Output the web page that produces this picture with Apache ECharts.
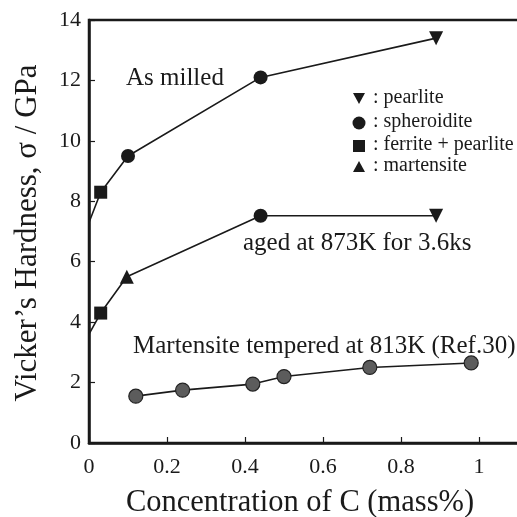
<!DOCTYPE html>
<html>
<head>
<meta charset="utf-8">
<script src="https://cdn.jsdelivr.net/npm/echarts@6/dist/echarts.min.js"></script>
<style>
  html, body { margin: 0; padding: 0; background: #fff; }
  #chart { width: 517px; height: 517px; }
</style>
</head>
<body>
<div id="chart"></div>
<script>
// as milled
var milledX = [0, 0.03, 0.1, 0.44, 0.89]
var milledY = [7.3, 8.3, 9.5, 12.1, 13.4]
var milledSym = ['none', 'square', 'circle', 'circle', 'down']

// aged at 873K for 3.6ks
var agedX = [0, 0.03, 0.097, 0.44, 0.89]
var agedY = [3.6, 4.3, 5.5, 7.52, 7.52]
var agedSym = ['none', 'square', 'triangle', 'circle', 'down']

// martensite tempered at 813K (Ref.30)
var tempX = [0.12, 0.24, 0.42, 0.5, 0.72, 0.98]
var tempY = [1.55, 1.75, 1.95, 2.2, 2.5, 2.65]

var legendItems = [': pearlite', ': spheroidite', ': ferrite + pearlite', ': martensite']

var FONT = 'Liberation Serif'
var INK = '#1a1a1a'

function points (xs, ys, syms) {
  return xs.map(function (x, i) {
    var s = syms ? syms[i] : 'circle'
    var item = { value: [x, ys[i]] }
    if (s === 'none') {
      item.symbol = 'none'
    } else if (s === 'down') {
      item.symbol = 'triangle'
      item.symbolRotate = 180
      item.symbolSize = 14
    } else if (s === 'square') {
      item.symbol = 'rect'
      item.symbolSize = 13
    } else if (s === 'triangle') {
      item.symbol = 'triangle'
      item.symbolSize = 14
    } else {
      item.symbol = 'circle'
      item.symbolSize = 14
    }
    return item
  })
}

var myChart = echarts.init(document.getElementById('chart'))
myChart.setOption({
  animation: false,
  grid: {
    left: 89,
    top: 20,
    width: 435,
    height: 423,
    outerBoundsMode: 'none',
    containLabel: false,
    show: true,
    borderColor: INK,
    borderWidth: 2.5
  },
  xAxis: {
    type: 'value',
    min: 0,
    max: 1.1154,
    interval: 0.2,
    axisLine: { lineStyle: { color: INK, width: 2.5 } },
    axisTick: { inside: true, length: 6, lineStyle: { color: INK, width: 1.2 } },
    axisLabel: {
      margin: 13,
      fontFamily: FONT,
      fontSize: 22,
      color: INK,
      formatter: function (v) {
        return v > 1.05 ? '' : String(Math.round(v * 10) / 10)
      }
    },
    splitLine: { show: false }
  },
  yAxis: {
    type: 'value',
    min: 0,
    max: 14,
    interval: 2,
    axisLine: { lineStyle: { color: INK, width: 2.5 } },
    axisTick: { inside: true, length: 6, lineStyle: { color: INK, width: 1.2 } },
    axisLabel: { margin: 8, fontFamily: FONT, fontSize: 22, color: INK },
    splitLine: { show: false }
  },
  series: [
    {
      type: 'line',
      data: points(milledX, milledY, milledSym),
      lineStyle: { color: INK, width: 1.6 },
      itemStyle: { color: INK }
    },
    {
      type: 'line',
      data: points(agedX, agedY, agedSym),
      lineStyle: { color: INK, width: 1.6 },
      itemStyle: { color: INK }
    },
    {
      type: 'line',
      data: points(tempX, tempY),
      lineStyle: { color: INK, width: 1.6 },
      itemStyle: { color: '#5c5c5c', borderColor: '#222', borderWidth: 1.2 }
    }
  ],
  graphic: [
    // axis titles
    {
      type: 'text', x: 300, y: 503,
      style: { text: 'Concentration of C (mass%)', font: '30.5px ' + FONT, fill: INK, textAlign: 'center', textVerticalAlign: 'middle' }
    },
    {
      type: 'text', x: 28, y: 233, rotation: Math.PI / 2,
      style: { text: 'Vicker\u2019s Hardness, \u03c3 / GPa', font: '31px ' + FONT, fill: INK, textAlign: 'center', textVerticalAlign: 'middle' }
    },
    // annotations
    {
      type: 'text', x: 126, y: 78,
      style: { text: 'As milled', font: '25px ' + FONT, fill: INK, textVerticalAlign: 'middle' }
    },
    {
      type: 'text', x: 243, y: 243,
      style: { text: 'aged at 873K for 3.6ks', font: '25px ' + FONT, fill: INK, textVerticalAlign: 'middle' }
    },
    {
      type: 'text', x: 133, y: 346,
      style: { text: 'Martensite tempered at 813K (Ref.30)', font: '25px ' + FONT, fill: INK, textVerticalAlign: 'middle' }
    },
    // legend
    { type: 'polygon', shape: { points: [[353, 93], [365, 93], [359, 104]] }, style: { fill: INK } },
    { type: 'circle', shape: { cx: 359, cy: 123, r: 6.5 }, style: { fill: INK } },
    { type: 'rect', shape: { x: 353, y: 140, width: 12, height: 12 }, style: { fill: INK } },
    { type: 'polygon', shape: { points: [[353, 172], [365, 172], [359, 161]] }, style: { fill: INK } },
    { type: 'text', x: 373, y: 98, style: { text: legendItems[0], font: '20px ' + FONT, fill: INK, textVerticalAlign: 'middle' } },
    { type: 'text', x: 373, y: 122, style: { text: legendItems[1], font: '20px ' + FONT, fill: INK, textVerticalAlign: 'middle' } },
    { type: 'text', x: 373, y: 145, style: { text: legendItems[2], font: '20px ' + FONT, fill: INK, textVerticalAlign: 'middle' } },
    { type: 'text', x: 373, y: 166, style: { text: legendItems[3], font: '20px ' + FONT, fill: INK, textVerticalAlign: 'middle' } }
  ]
}, true)
</script>
</body>
</html>
